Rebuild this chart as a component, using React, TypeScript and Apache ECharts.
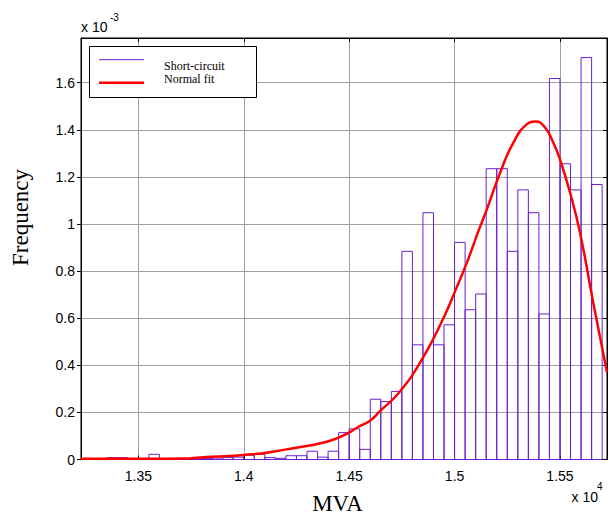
import React, { useEffect, useRef } from 'react';
import * as echarts from 'echarts';

// Histogram bins (left edge, MVA) and frequency values (x 10^-3)
const binStart = [
  13250, 13300, 13350, 13400, 13450, 13500, 13550, 13600, 13650, 13700,
  13750, 13800, 13850, 13900, 13950, 14000, 14050, 14100, 14150, 14200,
  14250, 14300, 14350, 14400, 14450, 14500, 14550, 14600, 14650, 14700,
  14750, 14800, 14850, 14900, 14950, 15000, 15050, 15100, 15150, 15200,
  15250, 15300, 15350, 15400, 15450, 15500, 15550, 15600, 15650,
];
const binWidth = 50;
const binFreq = [
  0, 0, 0.008, 0.008, 0, 0, 0.022, 0, 0, 0,
  0.004, 0.004, 0.006, 0.008, 0.01, 0.018, 0.022, 0.008, 0.005, 0.016,
  0.016, 0.035, 0.01, 0.035, 0.114, 0.13, 0.043, 0.256, 0.246, 0.289,
  0.884, 0.487, 1.048, 0.487, 0.572, 0.922, 0.636, 0.703, 1.235, 1.235,
  0.884, 1.145, 1.048, 0.618, 1.618, 1.256, 1.145, 1.707, 1.168,
];

// Normal fit curve points
const fitMVA = [
  13228, 13555, 13721, 13793, 13911, 14006, 14101, 14196, 14291, 14385,
  14447, 14495, 14542, 14599, 14646, 14741, 14844, 14947, 15002, 15058,
  15113, 15153, 15216, 15279, 15342, 15385, 15429, 15468, 15500, 15548,
  15595, 15658, 15723,
];
const fitFreq = [
  0.003, 0.003, 0.004, 0.009, 0.014, 0.02, 0.028, 0.042, 0.056, 0.073,
  0.092, 0.112, 0.138, 0.165, 0.205, 0.289, 0.423, 0.6, 0.714, 0.835,
  0.97, 1.062, 1.218, 1.346, 1.423, 1.435, 1.41, 1.346, 1.274, 1.133,
  0.963, 0.665, 0.37,
];

const X_MIN = 13228;
const X_MAX = 15723;
const Y_MAX = 1.79;

const legendNames = ['Short-circuit', 'Normal fit'];
const xLabel = 'MVA';
const yLabel = 'Frequency';

const PURPLE = '#6a1fd0';
const RED = '#ff0000';
const GRIDC = '#a0a0a0';

export default function App() {
  const ref = useRef<HTMLDivElement>(null);
  useEffect(() => {
    if (!ref.current) return;
    const chart = echarts.init(ref.current, undefined, { renderer: 'svg' });
    const barData = binStart.map((s, i) => [s, s + binWidth, binFreq[i]]);
    const lineData = fitMVA.map((m, i) => [m, fitFreq[i]]);
    const labelFont = { fontFamily: 'Liberation Sans, Arial, sans-serif', fontSize: 14, color: '#000' };
    chart.setOption({
      animation: false,
      backgroundColor: '#fff',
      grid: {
        left: 81, top: 38, right: 3, bottom: 56.5,
        show: true, borderColor: '#000', borderWidth: 1, backgroundColor: '#fff',
      },
      xAxis: [
        {
          type: 'value', min: X_MIN, max: X_MAX, minInterval: 500, maxInterval: 500,
          position: 'bottom',
          axisLine: { show: true, onZero: false, lineStyle: { color: '#000', width: 1 } },
          axisTick: { show: true, inside: true, length: 4, lineStyle: { color: '#000' } },
          axisLabel: {
            ...labelFont, margin: 9, showMinLabel: false, showMaxLabel: false,
            formatter: (v: number) => (Math.abs(v % 500) < 1e-6 ? String(v / 10000) : ''),
          },
          splitLine: { show: true, lineStyle: { color: GRIDC, width: 1 } },
        },
        {
          type: 'value', min: X_MIN, max: X_MAX, minInterval: 500, maxInterval: 500,
          position: 'top',
          axisLine: { show: true, onZero: false, lineStyle: { color: '#000', width: 1 } },
          axisTick: { show: true, inside: true, length: 4, lineStyle: { color: '#000' } },
          axisLabel: { show: false },
          splitLine: { show: false },
        },
      ],
      yAxis: [
        {
          type: 'value', min: 0, max: Y_MAX, interval: 0.2,
          position: 'left',
          axisLine: { show: true, onZero: false, lineStyle: { color: '#000', width: 1 } },
          axisTick: { show: true, inside: false, length: 4, lineStyle: { color: '#000' } },
          axisLabel: { ...labelFont, margin: 6, showMaxLabel: false },
          splitLine: { show: true, lineStyle: { color: GRIDC, width: 1 } },
        },
        {
          type: 'value', min: 0, max: Y_MAX, interval: 0.2,
          position: 'right',
          axisLine: { show: true, onZero: false, lineStyle: { color: '#000', width: 1 } },
          axisTick: { show: true, inside: true, length: 4, lineStyle: { color: '#000' } },
          axisLabel: { show: false },
          splitLine: { show: false },
        },
      ],
      series: [
        {
          name: legendNames[0],
          type: 'custom',
          xAxisIndex: 0, yAxisIndex: 0,
          encode: { x: [0, 1], y: 2 },
          data: barData,
          z: 2,
          renderItem: (params: any, api: any) => {
            const p0 = api.coord([api.value(0), api.value(2)]);
            const p1 = api.coord([api.value(1), 0]);
            return {
              type: 'rect',
              shape: { x: p0[0], y: p0[1], width: p1[0] - p0[0], height: p1[1] - p0[1] },
              style: { fill: 'none', stroke: PURPLE, lineWidth: 1 },
            };
          },
        },
        {
          name: legendNames[1],
          type: 'line',
          xAxisIndex: 0, yAxisIndex: 0,
          data: lineData,
          smooth: 0.5,
          showSymbol: false,
          clip: true,
          z: 3,
          lineStyle: { color: RED, width: 2.5 },
        },
      ],
      graphic: [
        { type: 'rect', shape: { x: 89.5, y: 46.5, width: 167, height: 51 }, style: { fill: '#fff', stroke: '#000', lineWidth: 1 }, z: 10 },
        { type: 'line', shape: { x1: 99, y1: 59.7, x2: 144, y2: 59.7 }, style: { stroke: PURPLE, lineWidth: 1 }, z: 11 },
        { type: 'line', shape: { x1: 99, y1: 82.7, x2: 144, y2: 82.7 }, style: { stroke: RED, lineWidth: 2.5 }, z: 11 },
        { type: 'text', x: 164, y: 66, style: { text: legendNames[0], fontFamily: 'Liberation Serif, Times New Roman, serif', fontSize: 12, fill: '#000', verticalAlign: 'middle', align: 'left' }, z: 11 },
        { type: 'text', x: 164, y: 79, style: { text: legendNames[1], fontFamily: 'Liberation Serif, Times New Roman, serif', fontSize: 12, fill: '#000', verticalAlign: 'middle', align: 'left' }, z: 11 },
        { type: 'text', x: 337.5, y: 503.5, style: { text: xLabel, fontFamily: 'Liberation Serif, Times New Roman, serif', fontSize: 23, fill: '#000', verticalAlign: 'middle', align: 'center' } },
        { type: 'text', x: 20, y: 217.5, rotation: Math.PI / 2, style: { text: yLabel, fontFamily: 'Liberation Serif, Times New Roman, serif', fontSize: 23, fill: '#000', verticalAlign: 'middle', align: 'center' } },
        { type: 'text', x: 81, y: 26.5, style: { text: 'x 10', fontFamily: 'Liberation Sans, Arial, sans-serif', fontSize: 14, fill: '#000', verticalAlign: 'middle', align: 'left' } },
        { type: 'text', x: 110, y: 17.5, style: { text: '-3', fontFamily: 'Liberation Sans, Arial, sans-serif', fontSize: 10, fill: '#000', verticalAlign: 'middle', align: 'left' } },
        { type: 'text', x: 571.5, y: 496.5, style: { text: 'x 10', fontFamily: 'Liberation Sans, Arial, sans-serif', fontSize: 14, fill: '#000', verticalAlign: 'middle', align: 'left' } },
        { type: 'text', x: 597, y: 486.5, style: { text: '4', fontFamily: 'Liberation Sans, Arial, sans-serif', fontSize: 10, fill: '#000', verticalAlign: 'middle', align: 'left' } },
      ],
    });
    return () => chart.dispose();
  }, []);
  return (
    <div
      ref={ref}
      style={{ position: 'absolute', left: 0, top: 0, width: 610, height: 516, background: '#fff' }}
    />
  );
}
